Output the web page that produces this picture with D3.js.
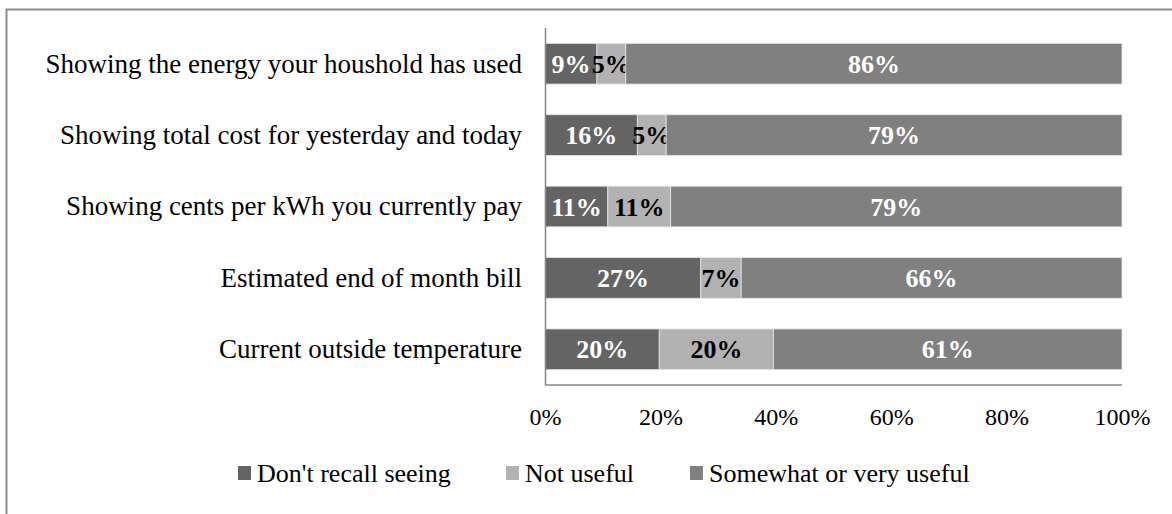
<!DOCTYPE html>
<html>
<head>
<meta charset="utf-8">
<script src="https://cdn.jsdelivr.net/npm/d3@7"></script>
<style>
  body { margin: 0; background: #fff; }
  svg { font-family: "Liberation Serif", "Times New Roman", serif; }
</style>
</head>
<body>
<div id="chart"></div>
<script>
// chart data
const categories = [
  "Showing the energy your houshold has used",
  "Showing total cost for yesterday and today",
  "Showing cents per kWh you currently pay",
  "Estimated end of month bill",
  "Current outside temperature"
];
const seriesNames = ["Don't recall seeing", "Not useful", "Somewhat or very useful"];
const dontRecall = [9, 16, 11, 27, 20];
const notUseful = [5, 5, 11, 7, 20];
const useful = [86, 79, 79, 66, 61];
const tickLabels = ["0%", "20%", "40%", "60%", "80%", "100%"];

const colors = ["#646464", "#b2b2b2", "#808080"];
const labelColors = ["#fff", "#000", "#fff"];

const width = 1172, height = 514;
const svg = d3.select("#chart").append("svg")
  .attr("width", width)
  .attr("height", height);

// outer frame (runs off the right and bottom edges)
svg.append("rect")
  .attr("x", 6.5).attr("y", 9.5)
  .attr("width", width).attr("height", height)
  .attr("fill", "none")
  .attr("stroke", "#8c8c8c")
  .attr("stroke-width", 2);

const rows = categories.map((c, i) => ({
  cat: c, s0: dontRecall[i], s1: notUseful[i], s2: useful[i]
}));

const stack = d3.stack()
  .keys(["s0", "s1", "s2"])
  .offset(d3.stackOffsetExpand);
const layers = stack(rows);

const x = d3.scaleLinear().domain([0, 1]).range([545, 1122]);
const y = d3.scaleBand().domain(categories).range([28, 385]).paddingInner(0.43).paddingOuter(0.215);

const layerG = svg.selectAll(".layer")
  .data(layers)
  .enter().append("g")
  .attr("class", "layer")
  .attr("fill", (d, i) => colors[i]);

layerG.selectAll("rect")
  .data(d => d)
  .enter().append("rect")
  .attr("x", d => x(d[0]))
  .attr("y", d => y(d.data.cat))
  .attr("width", d => x(d[1]) - x(d[0]))
  .attr("height", y.bandwidth())
  .attr("stroke", "#e6e6e6")
  .attr("stroke-width", 0.8);

layerG.each(function(layer, li) {
  d3.select(this).selectAll("text")
    .data(layer)
    .enter().append("text")
    .attr("x", d => (x(d[0]) + x(d[1])) / 2)
    .attr("y", d => y(d.data.cat) + y.bandwidth() / 2)
    .attr("dy", "0.35em")
    .attr("text-anchor", "middle")
    .attr("font-size", 26)
    .attr("font-weight", "bold")
    .attr("fill", labelColors[li])
    .text(d => d.data[layer.key] + "%");
});

// category labels
svg.selectAll(".cat")
  .data(categories)
  .enter().append("text")
  .attr("class", "cat")
  .attr("x", 522)
  .attr("y", d => y(d) + y.bandwidth() / 2)
  .attr("dy", "0.33em")
  .attr("text-anchor", "end")
  .attr("font-size", 27)
  .attr("fill", "#000")
  .text(d => d);

// axes lines
svg.append("line")
  .attr("x1", 545.5).attr("x2", 545.5)
  .attr("y1", 28).attr("y2", 385)
  .attr("stroke", "#868686").attr("stroke-width", 1.5);
svg.append("line")
  .attr("x1", 545).attr("x2", 1122)
  .attr("y1", 385).attr("y2", 385)
  .attr("stroke", "#868686").attr("stroke-width", 1.5);

// x tick labels
const xAxis = d3.axisBottom(x)
  .tickValues(d3.range(0, 1.01, 0.2))
  .tickFormat((d, i) => tickLabels[i])
  .tickSize(0)
  .tickPadding(0);
const axisG = svg.append("g")
  .attr("transform", "translate(0,408)")
  .call(xAxis);
axisG.select(".domain").remove();
axisG.selectAll("text")
  .attr("font-family", "Liberation Serif, Times New Roman, serif")
  .attr("font-size", 24)
  .attr("fill", "#000");

// legend
const legendX = [238, 506, 690];
const legend = svg.selectAll(".legend")
  .data(seriesNames)
  .enter().append("g")
  .attr("class", "legend")
  .attr("transform", (d, i) => `translate(${legendX[i]},473)`);
legend.append("rect")
  .attr("x", 0).attr("y", -7)
  .attr("width", 13).attr("height", 14)
  .attr("fill", (d, i) => colors[i]);
legend.append("text")
  .attr("x", 19)
  .attr("dy", "0.33em")
  .attr("font-size", 26)
  .attr("fill", "#000")
  .text(d => d);
</script>
</body>
</html>
